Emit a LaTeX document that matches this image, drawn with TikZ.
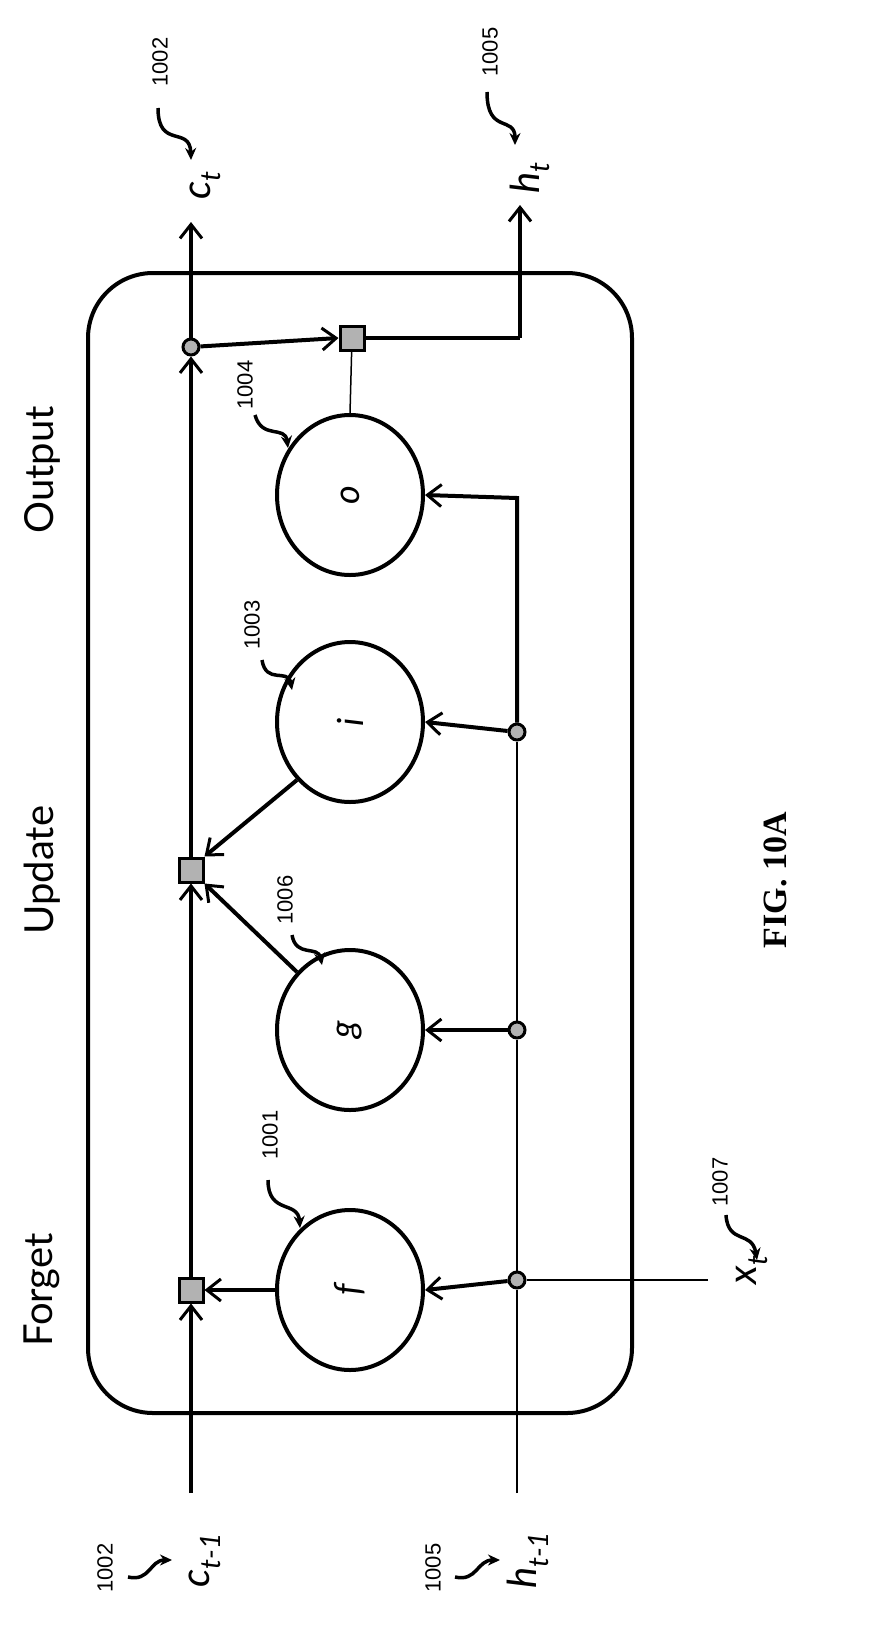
\documentclass[tikz,border=0pt]{standalone}
\usepackage{fontspec}
\setmainfont{Liberation Sans}
\newfontfamily\lato{Lato}
\newfontfamily\serifb{Liberation Serif}
\usetikzlibrary{arrows.meta,shapes.geometric}
\begin{document}
\begin{tikzpicture}[x=1pt,y=-1pt,
 thick/.style={line width=4pt},
 thin/.style={line width=1.5pt},
 ar/.style={-{Straight Barb[length=14pt,width=22pt,line width=3pt]}},
 gate/.style={ellipse,draw,line width=4pt,minimum width=146pt,minimum height=160pt,inner sep=0pt,font=\lato\fontsize{36}{36}\selectfont\itshape},
 mul/.style={rectangle,draw,line width=3pt,fill=gray!60,minimum size=24pt,inner sep=0pt},
 dot/.style={circle,draw,line width=3pt,fill=gray!60,minimum size=16pt,inner sep=0pt},
 lbl/.style={rotate=90,font=\lato\fontsize{40}{40}\selectfont},
 var/.style={rotate=90,font=\lato\fontsize{40}{40}\selectfont\itshape},
 num/.style={rotate=90,font=\fontsize{22}{22}\selectfont},
 sq/.style={line width=3.5pt,-{Stealth[length=12pt,width=11pt]}}]
\useasboundingbox (0,0) rectangle (887,1641);
\draw[line width=4pt,rounded corners=65pt] (88,273) rectangle (632,1413);
% gates
\node[gate] (f) at (350,1290) {\rotatebox{90}{f}};
\node[gate] (g) at (350,1030) {\rotatebox{90}{g}};
\node[gate] (i) at (350,722) {\rotatebox{90}{i}};
\node[gate] (o) at (350,495) {\rotatebox{90}{o}};
% ops
\node[mul] (mf) at (191,1290) {};
\node[mul] (mu) at (191,870) {};
\node[mul] (mo) at (352,338) {};
\node[dot] (dc) at (191,347) {};
\node[dot] (d1) at (517,1280) {};
\node[dot] (d2) at (517,1030) {};
\node[dot] (d3) at (517,732) {};
% coordinates
\coordinate (cin) at (191,1493);
\coordinate (cout) at (191,222);
\coordinate (hin) at (517,1493);
\coordinate (hturn) at (517,498);
\coordinate (hup) at (520,338);
\coordinate (hout) at (520,205);
\coordinate (xin) at (708,1280);
% c line
\draw[thick,ar] (cin) -- (mf.south);
\draw[thick,ar] (mf.north) -- (mu.south);
\draw[thick,ar] (mu.north) -- (dc.south);
\draw[thick,ar] (dc.north) -- (cout);
% h line
\draw[thin] (hin) -- (d1) -- (d2) -- (d3);
\draw[thin] (xin) -- (d1);
\draw[thick,ar] (d3.north) -- (hturn) -- (o.east);
\draw[thick,ar] (d1) -- (f.east);
\draw[thick,ar] (d2) -- (g.east);
\draw[thick,ar] (d3) -- (i.east);
\draw[thick,ar] (f.west) -- (mf.east);
\draw[thick,ar] (i.south west) -- (mu.north east);
\draw[thick,ar] (g.north west) -- (mu.south east);
\draw[thick,ar] (dc) -- (mo.west);
\draw[thin] (mo) -- (o.north);
\draw[thick] (mo.east) -- (hup);
\draw[thick,ar] (hup) -- (hout);
% texts
\node[lbl] (tf) at (42,1290) {Forget};
\node[lbl] (tu) at (42,870) {Update};
\node[lbl] (to) at (42,470) {Output};
\node[var] (ct) at (205,185) {c\textsubscript{\fontsize{28}{28}\selectfont t}};
\node[var] (ht) at (530,178) {h\textsubscript{\fontsize{28}{28}\selectfont t}};
\node[var] (ct1) at (205,1560) {c\textsubscript{\fontsize{28}{28}\selectfont t-1}};
\node[var] (ht1) at (528,1560) {h\textsubscript{\fontsize{28}{28}\selectfont t-1}};
\node[var] (xt) at (752,1270) {x\textsubscript{\fontsize{28}{28}\selectfont t}};
\node[num] (n1) at (160,62) {1002};
\node[num] (n2) at (490,52) {1005};
\node[num] (n3) at (245,385) {1004};
\node[num] (n4) at (252,625) {1003};
\node[num] (n5) at (285,900) {1006};
\node[num] (n6) at (270,1135) {1001};
\node[num] (n7) at (720,1182) {1007};
\node[num] (n8) at (105,1568) {1002};
\node[num] (n9) at (433,1568) {1005};
\node[rotate=90,font=\serifb\bfseries\fontsize{34}{34}\selectfont] (fig) at (775,880) {FIG. 10A};
% squiggles
\draw[sq] (158,108) .. controls (158,150) and (190,125) .. (191,160);
\draw[sq] (487,92) .. controls (487,135) and (515,115) .. (515,145);
\draw[sq] (255,415) .. controls (262,440) and (285,425) .. (288,448);
\draw[sq] (262,660) .. controls (266,685) and (288,668) .. (292,690);
\draw[sq] (292,935) .. controls (296,958) and (318,945) .. (322,965);
\draw[sq] (268,1180) .. controls (268,1215) and (298,1200) .. (300,1228);
\draw[sq] (726,1215) .. controls (728,1245) and (752,1230) .. (757,1260);
\draw[sq] (128,1577) .. controls (150,1582) and (150,1560) .. (172,1560);
\draw[sq] (455,1577) .. controls (477,1582) and (477,1560) .. (500,1560);
\end{tikzpicture}
\end{document}
